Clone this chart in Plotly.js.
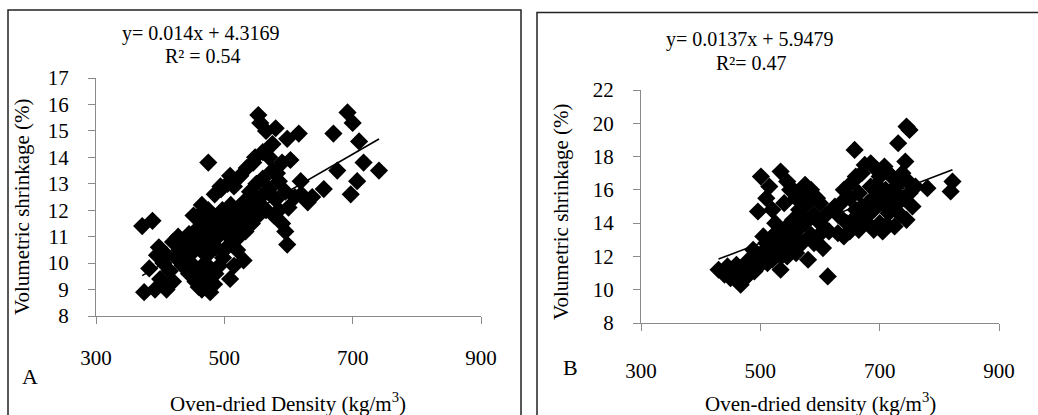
<!DOCTYPE html>
<html>
<head>
<meta charset="utf-8">
<script src="https://cdn.plot.ly/plotly-3.0.1.min.js"></script>
<style>
html,body{margin:0;padding:0;background:#fff;}
#chart{width:1038px;height:415px;}
</style>
</head>
<body>
<div id="chart"></div>
<script>
// Panel A: oven-dried density (kg/m3) vs volumetric shrinkage (%)
const densityA = [372,388,375,392,383,400,405,398,410,415,420,425,430,435,438,442,448,452,455,460,465,470,478,484,462,470,478,486,492,498,509,515,530,520,410,420,445,428,440,445,450,455,458,463,467,470,473,477,480,483,487,490,493,497,500,503,507,510,513,517,520,523,527,530,533,537,540,543,547,550,553,557,560,565,570,575,580,585,590,595,465,475,485,495,505,515,525,535,545,460,452,494,509,475,553,556,565,575,580,598,603,616,548,560,570,582,619,637,655,676,670,692,700,710,717,741,697,707,598,561,577,590,600,610,620,630,585,595,435,395];
const shrinkA = [11.4,11.6,8.9,9.0,9.8,9.4,10.0,10.6,10.3,9.7,10.8,10.2,10.5,9.9,10.9,10.4,10.0,10.7,9.3,9.1,9.0,9.3,8.9,9.2,9.7,10.0,9.7,9.6,9.9,10.2,9.4,9.9,10.1,10.5,9.0,9.3,9.6,11.0,10.6,11.1,10.4,10.9,11.3,10.5,11.0,11.6,10.3,10.8,11.2,11.8,10.6,11.0,11.5,12.0,10.5,11.1,11.7,12.2,10.8,11.4,12.0,11.0,11.6,12.3,11.2,12.0,12.7,11.5,12.3,13.0,11.8,12.5,13.2,12.0,12.8,13.5,12.4,13.1,13.8,12.7,12.2,12.0,12.6,12.8,13.0,12.9,13.3,13.6,13.8,11.8,11.8,12.9,13.3,13.8,15.6,15.3,15.0,14.5,15.1,14.7,13.9,14.9,14.0,14.2,14.0,13.4,13.1,12.5,12.8,13.5,14.9,15.7,15.3,14.6,13.8,13.5,12.6,13.1,10.7,12.1,11.8,11.5,12.1,12.5,12.6,12.3,12.0,11.2,10.2,10.3];
const fitA = {slope: 0.014, intercept: 4.3169, r2: '0.54'};

// Panel B
const densityB = [430,440,445,450,455,460,467,470,475,480,485,490,495,500,505,510,515,520,525,530,534,535,540,545,550,551,555,560,565,568,570,575,580,580,585,590,595,596,600,605,613,501,515,534,545,555,560,496,520,510,540,550,575,585,600,610,615,590,460,478,488,505,512,525,545,560,570,520,630,630,635,640,645,650,655,658,660,665,665,670,675,675,680,685,685,690,690,695,700,700,705,708,710,712,715,720,720,725,725,730,731,735,740,743,745,750,748,755,760,780,822,819,650,640,660,670,695,715,705,680,745,738,625,655,695,710,730,750];
const shrinkB = [11.2,10.9,11.4,10.7,11.1,11.5,10.3,11.0,10.7,11.3,11.8,11.1,12.0,11.5,12.3,12.8,12.0,13.2,12.5,13.5,11.2,12.0,13.0,13.8,12.5,13.1,14.2,13.5,14.8,15.8,12.8,14.0,11.8,15.2,13.3,14.5,15.5,13.2,14.0,12.5,10.8,16.8,16.2,17.1,16.5,16.0,15.5,14.7,14.8,15.5,15.2,16.0,16.3,16.0,15.2,14.5,13.5,12.8,10.6,11.7,12.4,13.2,11.6,14.0,12.0,12.2,14.5,11.8,13.4,14.5,15.2,16.0,14.0,15.5,16.5,18.4,14.8,13.6,15.8,17.0,14.3,17.5,15.2,16.2,17.6,13.6,14.8,15.7,16.8,14.0,15.2,17.4,16.0,13.9,14.6,15.5,16.8,13.8,15.0,16.3,18.8,14.5,15.5,17.7,19.8,19.6,16.5,15.0,16.2,16.1,16.5,15.9,13.5,13.2,16.8,15.0,17.2,17.0,13.5,14.0,14.2,17.0,15.0,14.2,16.3,15.0,15.7,15.8];
const fitB = {slope: 0.0137, intercept: 5.9479, r2: '0.47'};

const xTickVals = [300, 500, 700, 900];
const yTicksA = [8,9,10,11,12,13,14,15,16,17];
const yTicksB = [8,10,12,14,16,18,20,22];

function fitLine(xs, f){
  const lo = Math.min(...xs), hi = Math.max(...xs);
  return {x:[lo,hi], y:[f.slope*lo+f.intercept, f.slope*hi+f.intercept]};
}
const lA = fitLine(densityA, fitA), lB = fitLine(densityB, fitB);

const W = 1038, H = 415;
const px = v => v / W;
const py = v => 1 - v / H;

const marker = {symbol:'diamond', color:'#000', size:14, line:{width:0}};
const data = [
  {x:densityA, y:shrinkA, type:'scatter', mode:'markers', marker:marker, xaxis:'x', yaxis:'y', hoverinfo:'x+y'},
  {x:lA.x, y:lA.y, type:'scatter', mode:'lines', line:{color:'#000', width:1.6}, xaxis:'x', yaxis:'y'},
  {x:densityB, y:shrinkB, type:'scatter', mode:'markers', marker:marker, xaxis:'x2', yaxis:'y2', hoverinfo:'x+y'},
  {x:lB.x, y:lB.y, type:'scatter', mode:'lines', line:{color:'#000', width:1.6}, xaxis:'x2', yaxis:'y2'}
];

const serif = 'Liberation Serif, Times New Roman, serif';
const tickFont = {family: serif, size: 21, color: '#000'};
const txt = {family: serif, size: 21, color: '#000'};
const axBase = {
  showgrid:false, zeroline:false, showline:true, linecolor:'#8a8a8a', linewidth:1,
  ticks:'outside', tickcolor:'#8a8a8a', ticklen:7, tickwidth:1, tickfont:tickFont
};

const layout = {
  width: W, height: H,
  margin:{l:0, r:0, t:0, b:0},
  paper_bgcolor:'#fff', plot_bgcolor:'rgba(0,0,0,0)',
  showlegend:false,
  font:{family: serif, color:'#000'},
  xaxis: Object.assign({}, axBase, {domain:[px(96), px(481)], range:[300,900], tickvals:xTickVals, anchor:'y', ticklabelstandoff:16}),
  yaxis: Object.assign({}, axBase, {domain:[py(316), py(78)], range:[8,17], tickvals:yTicksA, anchor:'x', ticklabelstandoff:15}),
  xaxis2: Object.assign({}, axBase, {domain:[px(641), px(999)], range:[300,900], tickvals:xTickVals, anchor:'y2', ticklabelstandoff:22}),
  yaxis2: Object.assign({}, axBase, {domain:[py(323), py(90)], range:[8,22], tickvals:yTicksB, anchor:'x2', ticklabelstandoff:15}),
  shapes: [
    {type:'rect', xref:'paper', yref:'paper', x0:px(8), x1:px(521), y0:py(430), y1:py(10), line:{color:'#222', width:1.5}},
    {type:'rect', xref:'paper', yref:'paper', x0:px(537), x1:px(1060), y0:py(430), y1:py(12.5), line:{color:'#222', width:1.5}}
  ],
  annotations: [
    {xref:'paper', yref:'paper', x:px(201), y:py(33), text:'y= ' + fitA.slope + 'x + ' + fitA.intercept, showarrow:false, font:{family:serif, size:20}, xanchor:'center', yanchor:'middle'},
    {xref:'paper', yref:'paper', x:px(203), y:py(56), text:'R² = ' + fitA.r2, showarrow:false, font:{family:serif, size:20}, xanchor:'center', yanchor:'middle'},
    {xref:'paper', yref:'paper', x:px(750), y:py(40), text:'y= ' + fitB.slope + 'x + ' + fitB.intercept, showarrow:false, font:{family:serif, size:20}, xanchor:'center', yanchor:'middle'},
    {xref:'paper', yref:'paper', x:px(751), y:py(63), text:'R²= ' + fitB.r2, showarrow:false, font:{family:serif, size:20}, xanchor:'center', yanchor:'middle'},
    {xref:'paper', yref:'paper', x:px(288), y:py(402), text:'Oven-dried Density (kg/m<sup>3</sup>)', showarrow:false, font:txt, xanchor:'center', yanchor:'middle'},
    {xref:'paper', yref:'paper', x:px(820), y:py(402), text:'Oven-dried density (kg/m<sup>3</sup>)', showarrow:false, font:txt, xanchor:'center', yanchor:'middle'},
    {xref:'paper', yref:'paper', x:px(22), y:py(207), text:'Volumetric shrinkage (%)', textangle:-90, showarrow:false, font:txt, xanchor:'center', yanchor:'middle'},
    {xref:'paper', yref:'paper', x:px(561), y:py(212), text:'Volumetric shrinkage (%)', textangle:-90, showarrow:false, font:txt, xanchor:'center', yanchor:'middle'},
    {xref:'paper', yref:'paper', x:px(30), y:py(376), text:'A', showarrow:false, font:{family:serif, size:22}, xanchor:'center', yanchor:'middle'},
    {xref:'paper', yref:'paper', x:px(570), y:py(367), text:'B', showarrow:false, font:{family:serif, size:22}, xanchor:'center', yanchor:'middle'}
  ]
};

Plotly.newPlot('chart', data, layout, {staticPlot:true, displayModeBar:false});
</script>
</body>
</html>
